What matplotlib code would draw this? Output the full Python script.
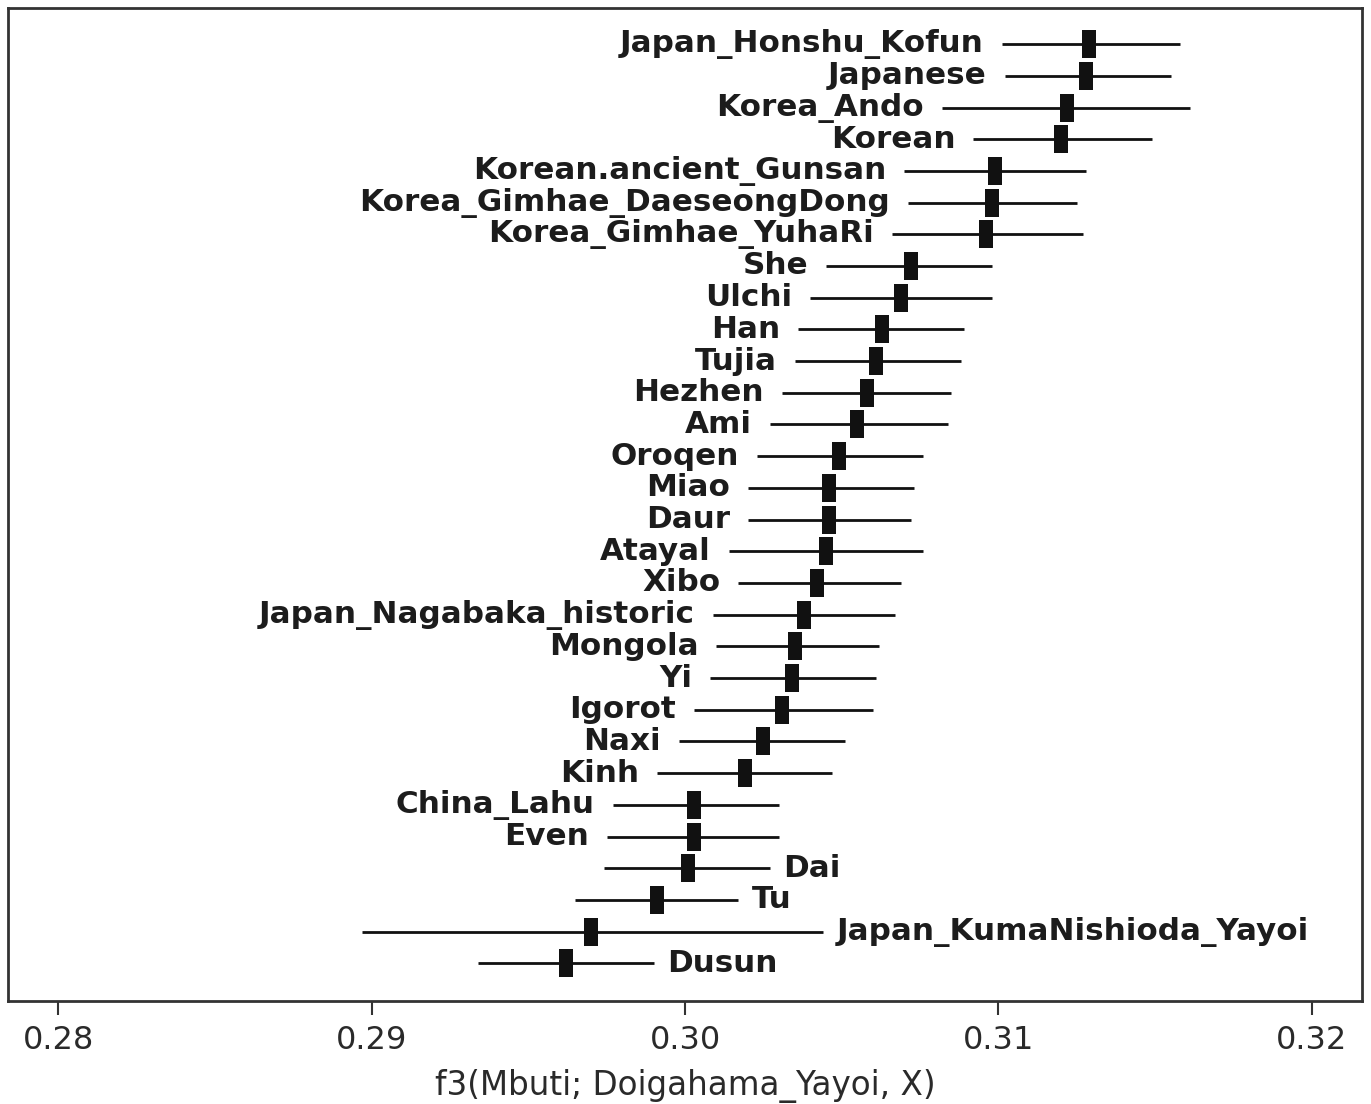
import matplotlib
matplotlib.use("Agg")
import matplotlib.pyplot as plt
import numpy as np
from matplotlib.path import Path

# ---- data (top to bottom) ----
names = ["Japan_Honshu_Kofun", "Japanese", "Korea_Ando", "Korean",
         "Korean.ancient_Gunsan", "Korea_Gimhae_DaeseongDong", "Korea_Gimhae_YuhaRi",
         "She", "Ulchi", "Han", "Tujia", "Hezhen", "Ami", "Oroqen", "Miao", "Daur",
         "Atayal", "Xibo", "Japan_Nagabaka_historic", "Mongola", "Yi", "Igorot",
         "Naxi", "Kinh", "China_Lahu", "Even", "Dai", "Tu",
         "Japan_KumaNishioda_Yayoi", "Dusun"]
est = [0.3129, 0.3128, 0.3122, 0.3120, 0.3099, 0.3098, 0.3096, 0.3072, 0.3069,
       0.3063, 0.3061, 0.3058, 0.3055, 0.3049, 0.3046, 0.3046, 0.3045, 0.3042,
       0.3038, 0.3035, 0.3034, 0.3031, 0.3025, 0.3019, 0.3003, 0.3003, 0.3001,
       0.2991, 0.2970, 0.2962]
lower = [0.3101, 0.3102, 0.3082, 0.3092, 0.3070, 0.3071, 0.3066, 0.3045, 0.3040,
         0.3036, 0.3035, 0.3031, 0.3027, 0.3023, 0.3020, 0.3020, 0.3014, 0.3017,
         0.3009, 0.3010, 0.3008, 0.3003, 0.2998, 0.2991, 0.2977, 0.2975, 0.2974,
         0.2965, 0.2897, 0.2934]
upper = [0.3158, 0.3155, 0.3161, 0.3149, 0.3128, 0.3125, 0.3127, 0.3098, 0.3098,
         0.3089, 0.3088, 0.3085, 0.3084, 0.3076, 0.3073, 0.3072, 0.3076, 0.3069,
         0.3067, 0.3062, 0.3061, 0.3060, 0.3051, 0.3047, 0.3030, 0.3030, 0.3027,
         0.3017, 0.3044, 0.2990]
right_labelled = {"Dai", "Tu", "Japan_KumaNishioda_Yayoi", "Dusun"}
xticks = [0.28, 0.29, 0.30, 0.31, 0.32]
xtick_labels = ["0.28", "0.29", "0.30", "0.31", "0.32"]
xlabel = "f3(Mbuti; Doigahama_Yayoi, X)"

plt.rcParams['font.family'] = ['DejaVu Sans']

fig = plt.figure(figsize=(13.71, 11.04), dpi=100)
ax = fig.add_axes([8 / 1371, 1 - 1001 / 1104, 1354 / 1371, 993 / 1104])

n = len(names)
ypos = np.arange(n, 0, -1)

ax.hlines(ypos, lower, upper, color="#111111", linewidth=2.0, zorder=2)

# tall narrow rectangle marker
w, h = 13 / 27, 1.0
rect = Path([(-w / 2, -h / 2), (w / 2, -h / 2), (w / 2, h / 2), (-w / 2, h / 2), (-w / 2, -h / 2)],
            [Path.MOVETO, Path.LINETO, Path.LINETO, Path.LINETO, Path.CLOSEPOLY])
ax.plot(est, ypos, linestyle="none", marker=rect, markersize=19.5,
        color="#111111", markeredgewidth=0, zorder=3)

txtcol = "#1c1c1c"
for name, y, lo, hi in zip(names, ypos, lower, upper):
    if name in right_labelled:
        ax.annotate(name, xy=(hi, y), xytext=(10, 0), textcoords="offset points",
                    ha="left", va="center", fontsize=22.3, fontweight="bold", color=txtcol)
    else:
        ax.annotate(name, xy=(lo, y), xytext=(-13, 0), textcoords="offset points",
                    ha="right", va="center", fontsize=22.3, fontweight="bold", color=txtcol)

ax.set_xlim(0.2784, 0.3216)
ax.set_ylim(-0.19, 31.14)
ax.set_yticks([])
ax.set_xticks(xticks)
ax.set_xticklabels(xtick_labels, fontsize=23, color="#2a2a2a")
ax.tick_params(axis="x", direction="out", length=10, width=1.5, color="#333333", pad=7)
ax.set_xlabel(xlabel, fontsize=23.5, color="#2a2a2a")
ax.xaxis.set_label_coords(0.5, -0.068)
ax.xaxis.label.set_verticalalignment("top")
for sp in ax.spines.values():
    sp.set_linewidth(2.0)
    sp.set_color("#333333")

fig.savefig("out.png", dpi=100)
